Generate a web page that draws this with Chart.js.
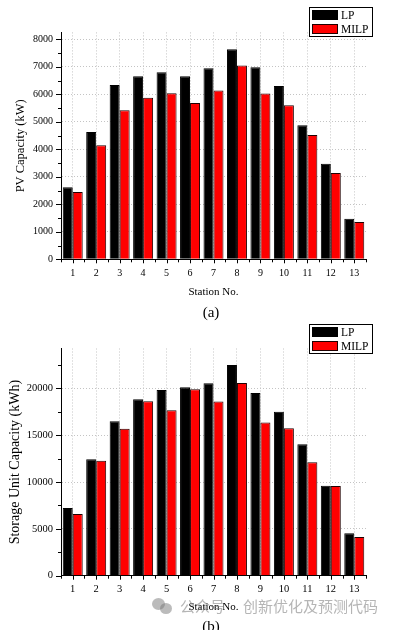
<!DOCTYPE html>
<html>
<head>
<meta charset="utf-8">
<script src="https://cdn.jsdelivr.net/npm/chart.js@4.4.1/dist/chart.umd.min.js"></script>
<style>
  html, body { margin: 0; padding: 0; background: #fff; width: 394px; height: 630px; overflow: hidden; position: relative; }
  canvas { position: absolute; left: 0; }
  #pvChart { top: 0; }
  #suChart { top: 320px; }
  .cap { position: absolute; font-family: "Liberation Serif", serif; font-size: 15px; color: #000; transform: translate(-50%, -50%); white-space: nowrap; }
  .wm { position: absolute; font-family: "Noto Sans CJK SC", sans-serif; font-size: 15px; color: rgba(120,120,120,0.55); white-space: nowrap; line-height: 1; }
  .dot { position: absolute; border-radius: 50%; background: rgba(120,120,120,0.5); }
</style>
</head>
<body>
<canvas id="pvChart" width="394" height="320"></canvas>
<canvas id="suChart" width="394" height="310"></canvas>
<div class="cap" style="left:211px; top:312px;">(a)</div>
<div class="cap" style="left:211px; top:626px;">(b)</div>
<div class="dot" style="left:152px; top:598px; width:13px; height:12px;"></div>
<div class="dot" style="left:160px; top:603px; width:12px; height:11px;"></div>
<div class="wm" style="left:180px; top:598px;">公众号</div>
<div class="wm" style="left:243px; top:598px;">创新优化及预测代码</div>
<script>
// station numbers on the x axis
const stations = ["1", "2", "3", "4", "5", "6", "7", "8", "9", "10", "11", "12", "13"];
const seriesNames = ["LP", "MILP"];

// (a) PV capacity, kW
const pvLP = [2620, 4630, 6340, 6660, 6800, 6660, 6950, 7640, 6980, 6300, 4870, 3470, 1470];
const pvMILP = [2450, 4150, 5420, 5870, 6040, 5680, 6140, 7050, 6030, 5600, 4520, 3140, 1360];
// y ticks (every other one is labelled)
const pvTicks = [0, 500, 1000, 1500, 2000, 2500, 3000, 3500, 4000, 4500, 5000, 5500, 6000, 6500, 7000, 7500, 8000];

// (b) storage unit capacity, kWh
const suLP = [7220, 12420, 16480, 18830, 19820, 20110, 20530, 22490, 19500, 17510, 14020, 9610, 4520];
const suMILP = [6580, 12280, 15690, 18610, 17650, 19890, 18580, 20570, 16340, 15730, 12100, 9570, 4130];
const suTicks = [0, 2500, 5000, 7500, 10000, 12500, 15000, 17500, 20000, 22500];

Chart.defaults.font.family = '"Liberation Serif", "Times New Roman", serif';
Chart.defaults.color = "#000";

const GRID = "#c4c4c4";

// short tick marks: long ones on major values, short on minor / category edges
const axisTicks = {
  id: "axisTicks",
  afterDraw(chart, args, opts) {
    const { ctx, chartArea, scales } = chart;
    const x = scales.x, y = scales.y;
    ctx.save();
    ctx.strokeStyle = "#000";
    ctx.lineWidth = 1;
    ctx.beginPath();
    y.ticks.forEach((t) => {
      const py = Math.round(y.getPixelForValue(t.value)) + 0.5;
      const len = t.value % opts.major === 0 ? 5 : 3;
      ctx.moveTo(chartArea.left - len, py);
      ctx.lineTo(chartArea.left, py);
    });
    const n = chart.data.labels.length;
    for (let i = 0; i < n; i++) {
      const px = Math.round(x.getPixelForValue(i)) + 0.5;
      ctx.moveTo(px, chartArea.bottom);
      ctx.lineTo(px, chartArea.bottom + 4);
    }
    for (let i = 0; i <= n; i++) {
      const px = Math.round(x.getPixelForValue(i - 0.5)) + 0.5;
      ctx.moveTo(px, chartArea.bottom);
      ctx.lineTo(px, chartArea.bottom + 3);
    }
    ctx.stroke();
    ctx.restore();
  },
};

// framed legend in the top right corner
const boxLegend = {
  id: "boxLegend",
  afterDraw(chart, args, opts) {
    const { ctx } = chart;
    const { x, y, w, h } = opts;
    ctx.save();
    ctx.fillStyle = "#fff";
    ctx.fillRect(x, y, w, h);
    ctx.strokeStyle = "#000";
    ctx.lineWidth = 1;
    ctx.strokeRect(x + 0.5, y + 0.5, w, h);
    ctx.font = '11.5px "Liberation Serif"';
    ctx.textBaseline = "middle";
    chart.data.datasets.forEach((ds, i) => {
      const rowY = y + 3 + i * 14;
      ctx.fillStyle = ds.backgroundColor;
      ctx.fillRect(x + 3, rowY, 26, 10);
      ctx.strokeStyle = ds.borderColor;
      ctx.strokeRect(x + 3.5, rowY + 0.5, 25, 9);
      ctx.fillStyle = "#000";
      ctx.fillText(ds.label, x + 32, rowY + 5.5);
    });
    ctx.restore();
  },
};

function makeChart(id, lp, milp, cfg) {
  const ctx = document.getElementById(id).getContext("2d");
  return new Chart(ctx, {
    type: "bar",
    data: {
      labels: stations,
      datasets: [
        { label: seriesNames[0], data: lp, backgroundColor: "#000000", borderColor: "#000000", borderWidth: 1 },
        { label: seriesNames[1], data: milp, backgroundColor: "#ff0000", borderColor: "#200000", borderWidth: 1 },
      ],
    },
    options: {
      responsive: false,
      animation: false,
      categoryPercentage: 0.852,
      barPercentage: 1,
      layout: { padding: cfg.padding },
      plugins: {
        legend: { display: false },
        tooltip: { enabled: false },
        axisTicks: { major: cfg.major },
        boxLegend: cfg.legend,
      },
      scales: {
        x: {
          type: "category",
          offset: true,
          grid: { offset: false, color: GRID, drawTicks: false },
          border: { color: "#000", width: 1, dash: [1, 2] },
          ticks: { font: { size: cfg.tickSize }, padding: cfg.xPad, maxRotation: 0, autoSkip: false },
          title: { display: true, text: "Station No.", font: { size: 11 }, padding: { top: 0, bottom: cfg.xTitlePad } },
          afterFit: (s) => { s.height = 40.7; },
        },
        y: {
          min: 0,
          max: cfg.max,
          grid: {
            drawTicks: false,
            color: (c) => (c.tick && c.tick.value !== 0 && c.tick.value % cfg.major === 0 ? GRID : "rgba(0,0,0,0)"),
          },
          border: { color: "#000", width: 1, dash: [1, 2] },
          afterBuildTicks: (s) => { s.ticks = cfg.ticks.map((v) => ({ value: v })); },
          ticks: {
            autoSkip: false,
            padding: 8,
            font: { size: cfg.tickSize },
            callback: (v) => (v % cfg.major === 0 ? String(v) : ""),
          },
          title: { display: true, text: cfg.yTitle, font: { size: cfg.yTitleSize }, padding: { top: cfg.yTitlePad, bottom: 0 } },
          afterFit: (s) => { s.width = 61; },
        },
      },
    },
    plugins: [axisTicks, boxLegend],
  });
}

makeChart("pvChart", pvLP, pvMILP, {
  max: 8250, major: 1000, ticks: pvTicks, tickSize: 10,
  yTitle: "PV Capacity (kW)", yTitleSize: 12.5, yTitlePad: 13.5,
  xPad: 8, xTitlePad: 1.5,
  padding: { left: 0, top: 32.4, right: 28, bottom: 20 },
  legend: { x: 309, y: 7, w: 63, h: 29 },
});

makeChart("suChart", suLP, suMILP, {
  max: 24250, major: 5000, ticks: suTicks, tickSize: 10.5,
  yTitle: "Storage Unit Capacity (kWh)", yTitleSize: 14, yTitlePad: 6.5,
  xPad: 7, xTitlePad: 2.5,
  padding: { left: 0, top: 28.5, right: 28, bottom: 13.6 },
  legend: { x: 309, y: 4, w: 63, h: 29 },
});
</script>
</body>
</html>
